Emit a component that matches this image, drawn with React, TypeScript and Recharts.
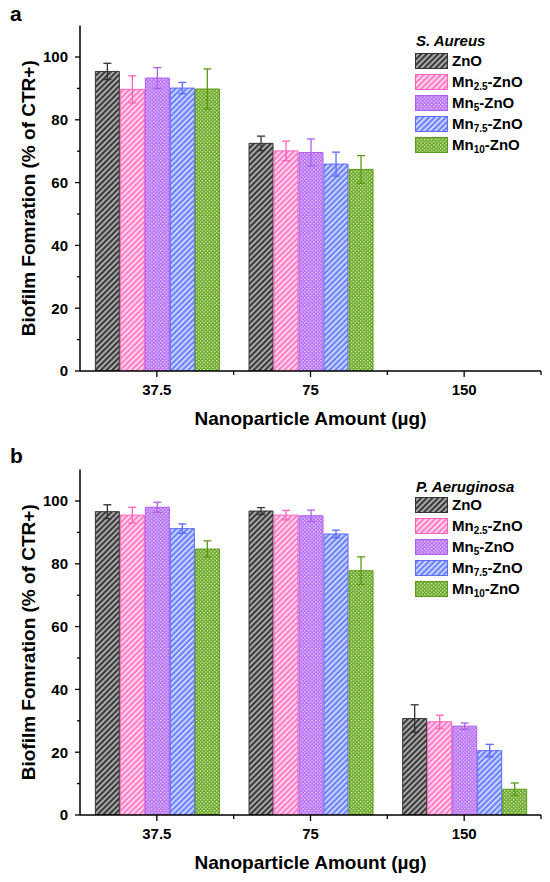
import React from "react"
import { BarChart, Bar, XAxis, YAxis, ErrorBar } from "recharts"

// x categories (nanoparticle amount, µg)
const doses = ["37.5", "75", "150"]

// series labels: base + subscript
const seriesKeys = ["zno", "mn25", "mn5", "mn75", "mn10"]
const seriesSubs = ["", "2.5", "5", "7.5", "10"]

// panel a - S. Aureus (150 µg: no biofilm measured)
const aureusZnO = [95.4, 72.5, null]
const aureusMn25 = [89.7, 70.1, null]
const aureusMn5 = [93.3, 69.6, null]
const aureusMn75 = [90.1, 65.9, null]
const aureusMn10 = [89.8, 64.2, null]
const aureusZnOErr = [2.6, 2.3, null]
const aureusMn25Err = [4.3, 3.1, null]
const aureusMn5Err = [3.3, 4.3, null]
const aureusMn75Err = [1.8, 3.8, null]
const aureusMn10Err = [6.4, 4.4, null]

// panel b - P. Aeruginosa
const aeruZnO = [96.6, 96.8, 30.7]
const aeruMn25 = [95.5, 95.5, 29.7]
const aeruMn5 = [98.0, 95.3, 28.3]
const aeruMn75 = [91.2, 89.5, 20.5]
const aeruMn10 = [84.7, 77.8, 8.2]
const aeruZnOErr = [2.2, 1.1, 4.4]
const aeruMn25Err = [2.5, 1.5, 2.1]
const aeruMn5Err = [1.6, 1.8, 1.0]
const aeruMn75Err = [1.5, 1.2, 2.0]
const aeruMn10Err = [2.6, 4.4, 2.0]

const yTicks = [0, 10, 20, 30, 40, 50, 60, 70, 80, 90, 100]

const FONT = "'Liberation Sans', Arial, sans-serif"
const W = 550
const H = 441
const PLOT_LEFT = 80
const PLOT_RIGHT = 9
const BAND = (W - PLOT_LEFT - PLOT_RIGHT) / doses.length

const strokes = ["#333333", "#ff62b8", "#ad5ef0", "#5c6cff", "#5a9a15"]

function buildRows(means: (number | null)[][], errs: (number | null)[][]) {
  return doses.map((dose, i) => {
    const row: Record<string, string | number | null> = { dose }
    seriesKeys.forEach((k, s) => {
      row[k] = means[s][i]
      row[k + "Err"] = errs[s][i]
    })
    return row
  })
}

const aureusRows = buildRows(
  [aureusZnO, aureusMn25, aureusMn5, aureusMn75, aureusMn10],
  [aureusZnOErr, aureusMn25Err, aureusMn5Err, aureusMn75Err, aureusMn10Err]
)
const aeruRows = buildRows(
  [aeruZnO, aeruMn25, aeruMn5, aeruMn75, aeruMn10],
  [aeruZnOErr, aeruMn25Err, aeruMn5Err, aeruMn75Err, aeruMn10Err]
)

function Patterns() {
  return (
    <defs>
      <pattern id="pat-zno" width="4" height="4" patternUnits="userSpaceOnUse" patternTransform="rotate(45)">
        <rect width="4" height="4" fill="#b4b4b4" />
        <rect width="2.2" height="4" fill="#3a3a3a" />
      </pattern>
      <pattern id="pat-mn25" width="4" height="4" patternUnits="userSpaceOnUse" patternTransform="rotate(45)">
        <rect width="4" height="4" fill="#ff80c6" />
        <rect width="1.6" height="4" fill="#ffe6f4" />
      </pattern>
      <pattern id="pat-mn5" width="3.6" height="3.6" patternUnits="userSpaceOnUse">
        <rect width="3.6" height="3.6" fill="#b46cf2" />
        <rect x="0" y="0" width="1.3" height="1.3" fill="#f3e6ff" />
        <rect x="1.8" y="1.8" width="1.3" height="1.3" fill="#f3e6ff" />
      </pattern>
      <pattern id="pat-mn75" width="4" height="4" patternUnits="userSpaceOnUse" patternTransform="rotate(45)">
        <rect width="4" height="4" fill="#6e84ff" />
        <rect width="1.5" height="4" fill="#e4e9ff" />
      </pattern>
      <pattern id="pat-mn10" width="3.6" height="3.6" patternUnits="userSpaceOnUse">
        <rect width="3.6" height="3.6" fill="#66a61e" />
        <rect x="0" y="0" width="1.3" height="1.3" fill="#eaf5dc" />
        <rect x="1.8" y="1.8" width="1.3" height="1.3" fill="#eaf5dc" />
      </pattern>
    </defs>
  )
}

const YTick = (props: any) => {
  const { x, y, payload } = props
  const major = payload.value % 20 === 0
  return (
    <g>
      <line x1={x} x2={x - (major ? 5 : 3)} y1={y} y2={y} stroke="#000" strokeWidth={1.3} />
      {major && (
        <text x={x - 12} y={y} dy={5.3} textAnchor="end" fontFamily={FONT} fontWeight="bold" fontSize={15} fill="#000">
          {payload.value}
        </text>
      )}
    </g>
  )
}

const XTick = (props: any) => {
  const { x, y, payload } = props
  return (
    <g>
      <line x1={x} x2={x} y1={y} y2={y + 6} stroke="#000" strokeWidth={1.3} />
      <line x1={x + BAND / 2} x2={x + BAND / 2} y1={y} y2={y + 4} stroke="#000" strokeWidth={1.3} />
      <text x={x} y={y + 24} textAnchor="middle" fontFamily={FONT} fontWeight="bold" fontSize={15} fill="#000">
        {payload.value}
      </text>
    </g>
  )
}

const YTitle = (props: any) => {
  const { viewBox } = props
  const cx = viewBox.x + 35
  const cy = viewBox.y + viewBox.height / 2
  return (
    <text x={cx} y={cy} transform={`rotate(-90 ${cx} ${cy})`} textAnchor="middle" fontFamily={FONT} fontWeight="bold" fontSize={19} fill="#000">
      Biofilm Fomration (% of CTR+)
    </text>
  )
}

const XTitle = (props: any) => {
  const { viewBox } = props
  return (
    <text x={viewBox.x + viewBox.width / 2} y={viewBox.y + 54} textAnchor="middle" fontFamily={FONT} fontWeight="bold" fontSize={19} fill="#000">
      Nanoparticle Amount (µg)
    </text>
  )
}

function LegendBox({ title, titleY, rowY }: { title: string; titleY: number; rowY: number }) {
  return (
    <>
      <div style={{ position: "absolute", left: 416, top: titleY - 9, fontFamily: FONT, fontWeight: "bold", fontStyle: "italic", fontSize: 15, lineHeight: "18px" }}>
        {title}
      </div>
      {seriesKeys.map((k, i) => (
        <div key={k} style={{ position: "absolute", left: 415, top: rowY + i * 21 - 9, height: 18, display: "flex", alignItems: "center" }}>
          <svg width={33} height={16} style={{ display: "block" }}>
            <rect x={0.5} y={0.5} width={32} height={15} fill={`url(#pat-${k})`} stroke={strokes[i]} strokeWidth={1} />
          </svg>
          <span style={{ marginLeft: 4, fontFamily: FONT, fontWeight: "bold", fontSize: 15, lineHeight: "18px", whiteSpace: "nowrap" }}>
            {i === 0 ? "ZnO" : (
              <>
                Mn<sub style={{ fontSize: 10, verticalAlign: "-3px", lineHeight: 0 }}>{seriesSubs[i]}</sub>-ZnO
              </>
            )}
          </span>
        </div>
      ))}
    </>
  )
}

function Panel({ rows, topMargin, bottom }: { rows: any[]; topMargin: number; bottom: number }) {
  return (
    <BarChart
      width={W}
      height={H}
      data={rows}
      margin={{ top: topMargin, right: PLOT_RIGHT, left: 0, bottom }}
      barCategoryGap="10%"
      barGap={1}
    >
      <Patterns />
      <XAxis
        dataKey="dose"
        height={60}
        tick={<XTick />}
        tickSize={0}
        tickMargin={0}
        tickLine={false}
        axisLine={{ stroke: "#000", strokeWidth: 1.5 }}
        label={<XTitle />}
      />
      <YAxis
        width={PLOT_LEFT}
        domain={[0, 110]}
        ticks={yTicks}
        interval={0}
        tick={<YTick />}
        tickSize={0}
        tickMargin={0}
        tickLine={false}
        axisLine={{ stroke: "#000", strokeWidth: 1.5 }}
        allowDataOverflow
        label={<YTitle />}
      />
      {seriesKeys.map((k, i) => (
        <Bar key={k} dataKey={k} fill={`url(#pat-${k})`} stroke={strokes[i]} strokeWidth={1} isAnimationActive={false}>
          <ErrorBar dataKey={k + "Err"} width={4} stroke={strokes[i]} strokeWidth={1.3} direction="y" />
        </Bar>
      ))}
    </BarChart>
  )
}

export default function App() {
  return (
    <div style={{ position: "absolute", left: 0, top: 0, width: W, height: 882, background: "#fff", overflow: "hidden" }}>
      <div style={{ position: "absolute", left: 0, top: 0, width: W, height: H }}>
        <Panel rows={aureusRows} topMargin={25.6} bottom={10} />
        <div style={{ position: "absolute", left: 10, top: 2, fontFamily: FONT, fontWeight: "bold", fontSize: 21, lineHeight: "24px" }}>a</div>
        <LegendBox title="S. Aureus" titleY={41} rowY={60.5} />
      </div>
      <div style={{ position: "absolute", left: 0, top: H, width: W, height: H }}>
        <Panel rows={aeruRows} topMargin={28.6} bottom={7} />
        <div style={{ position: "absolute", left: 10, top: 3, fontFamily: FONT, fontWeight: "bold", fontSize: 21, lineHeight: "24px" }}>b</div>
        <LegendBox title="P. Aeruginosa" titleY={46} rowY={63.5} />
      </div>
    </div>
  )
}
